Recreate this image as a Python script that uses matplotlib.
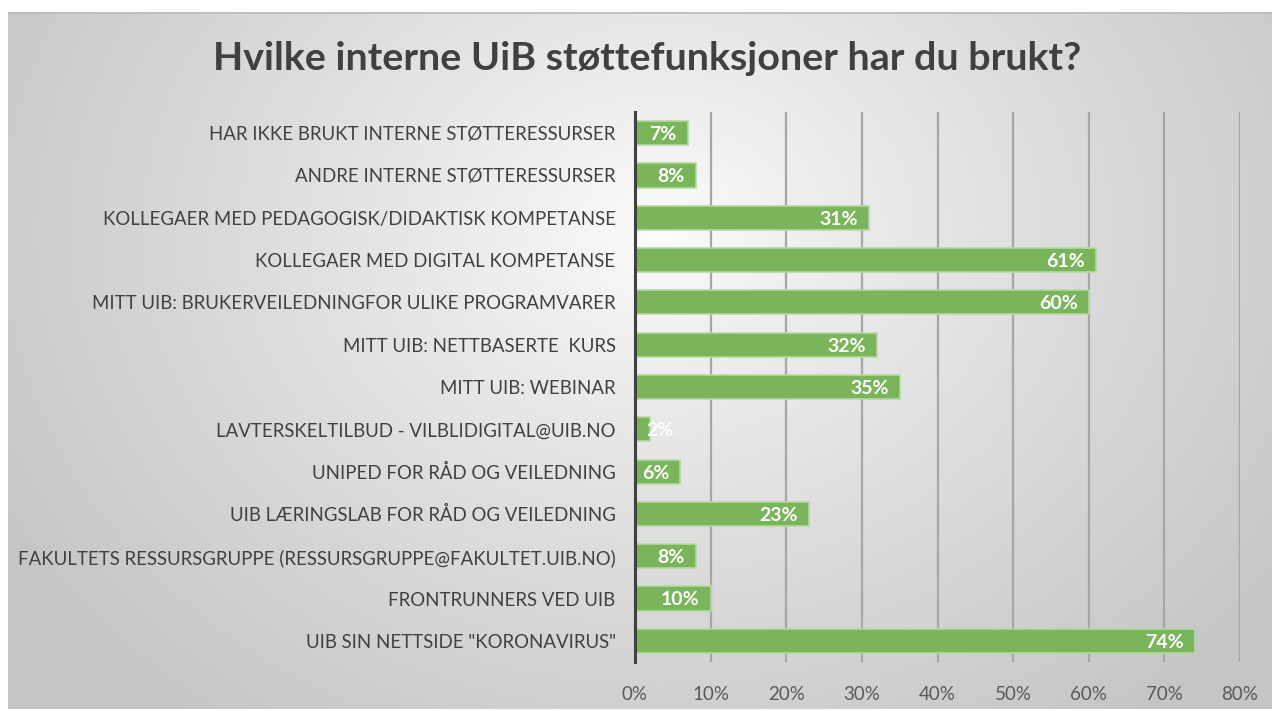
import numpy as np
import matplotlib
matplotlib.use("Agg")
import matplotlib.pyplot as plt

categories = [
    "HAR IKKE BRUKT INTERNE STØTTERESSURSER",
    "ANDRE INTERNE STØTTERESSURSER",
    "KOLLEGAER MED PEDAGOGISK/DIDAKTISK KOMPETANSE",
    "KOLLEGAER MED DIGITAL KOMPETANSE",
    "MITT UIB: BRUKERVEILEDNINGFOR ULIKE PROGRAMVARER",
    "MITT UIB: NETTBASERTE  KURS",
    "MITT UIB: WEBINAR",
    "LAVTERSKELTILBUD - VILBLIDIGITAL@UIB.NO",
    "UNIPED FOR RÅD OG VEILEDNING",
    "UIB LÆRINGSLAB FOR RÅD OG VEILEDNING",
    "FAKULTETS RESSURSGRUPPE (RESSURSGRUPPE@FAKULTET.UIB.NO)",
    "FRONTRUNNERS VED UIB",
    "UIB SIN NETTSIDE \"KORONAVIRUS\"",
]
values = [0.07, 0.08, 0.31, 0.61, 0.60, 0.32, 0.35, 0.02, 0.06, 0.23, 0.08, 0.10, 0.74]
xticks = [0, 0.1, 0.2, 0.3, 0.4, 0.5, 0.6, 0.7, 0.8]
xticklabels = ["0%", "10%", "20%", "30%", "40%", "50%", "60%", "70%", "80%"]
title = "Hvilke interne UiB støttefunksjoner har du brukt?"

W, H = 1272, 711
fig = plt.figure(figsize=(W / 100, H / 100), dpi=100)
fig.patch.set_facecolor("white")

# background panel with radial gradient
px0, py0, px1, py1 = 8, 12, 1272, 709
bg = fig.add_axes([px0 / W, 1 - py1 / H, (px1 - px0) / W, (py1 - py0) / H])
gx = np.linspace(px0, px1, 400)
gy = np.linspace(py0, py1, 250)
XX, YY = np.meshgrid(gx, gy)
cx, cy = 660, 230
r = np.sqrt(((XX - cx) / 760) ** 2 + ((YY - cy) / 620) ** 2)
r = np.clip(r, 0, 1)
val = 0.99 - (0.99 - 0.775) * r ** 0.85
img = np.dstack([val, val, val])
bg.imshow(img, aspect="auto", extent=[0, 1, 0, 1], interpolation="bilinear")
bg.set_xlim(0, 1); bg.set_ylim(0, 1)
bg.axis("off")
bg.axhline(1, color="#bdbdbd", lw=2)

# main axes
ax_left, ax_right = 635, 1240
ax_top, ax_bot = 112, 662
ax = fig.add_axes([ax_left / W, 1 - ax_bot / H, (ax_right - ax_left) / W, (ax_bot - ax_top) / H])
ax.set_facecolor("none")

y = np.arange(len(categories))
ax.barh(y, values, height=0.57, color="#7ab55c", edgecolor="#b5d9a0", linewidth=1.2, zorder=3)
ax.set_xlim(0, 0.8)
ax.set_ylim(len(categories) - 0.5, -0.5)
ax.set_xticks(xticks)
ax.set_xticklabels(xticklabels)
ax.set_yticks(y)

lab_font = "Lato"
renderer = fig.canvas.get_renderer()
t = fig.text(0, 0, categories[10], fontsize=10, family=lab_font)
w10 = t.get_window_extent(renderer).width
t.remove()
lab_size = 10 * 594 / w10

ax.set_yticklabels(categories, fontsize=lab_size, family=lab_font, color="#404040")
ax.tick_params(axis="y", length=0, pad=14)
ax.tick_params(axis="x", length=0, pad=17, labelsize=13.5, labelcolor="#595959")
for lbl in ax.get_xticklabels():
    lbl.set_family(lab_font)

for s in ["top", "right", "bottom"]:
    ax.spines[s].set_visible(False)
ax.spines["left"].set_color("#404040")
ax.spines["left"].set_linewidth(2.2)
ax.spines["left"].set_zorder(5)
ax.grid(axis="x", color="#a6a6a6", linewidth=1.6, zorder=1)
ax.grid(axis="y", visible=False)
ax.set_axisbelow(True)

for yi, v in zip(y, values):
    if v < 0.05:
        ax.annotate(f"{round(v*100)}%", (0, yi), xytext=(8, -1), textcoords="offset points",
                    ha="left", va="center", color="white", fontsize=14,
                    fontweight="bold", family=lab_font, zorder=6)
    else:
        ax.annotate(f"{round(v*100)}%", (v, yi), xytext=(-8, -1), textcoords="offset points",
                    ha="right", va="center", color="white", fontsize=14,
                    fontweight="bold", family=lab_font, zorder=6)

tt = fig.text(647 / W, 1 - 58 / H, title, fontsize=20, fontweight="bold", family=lab_font,
              color="#404040", ha="center", va="center")
tw = tt.get_window_extent(renderer).width
tt.set_fontsize(20 * 870 / tw)

fig.savefig("out.png", dpi=100)
